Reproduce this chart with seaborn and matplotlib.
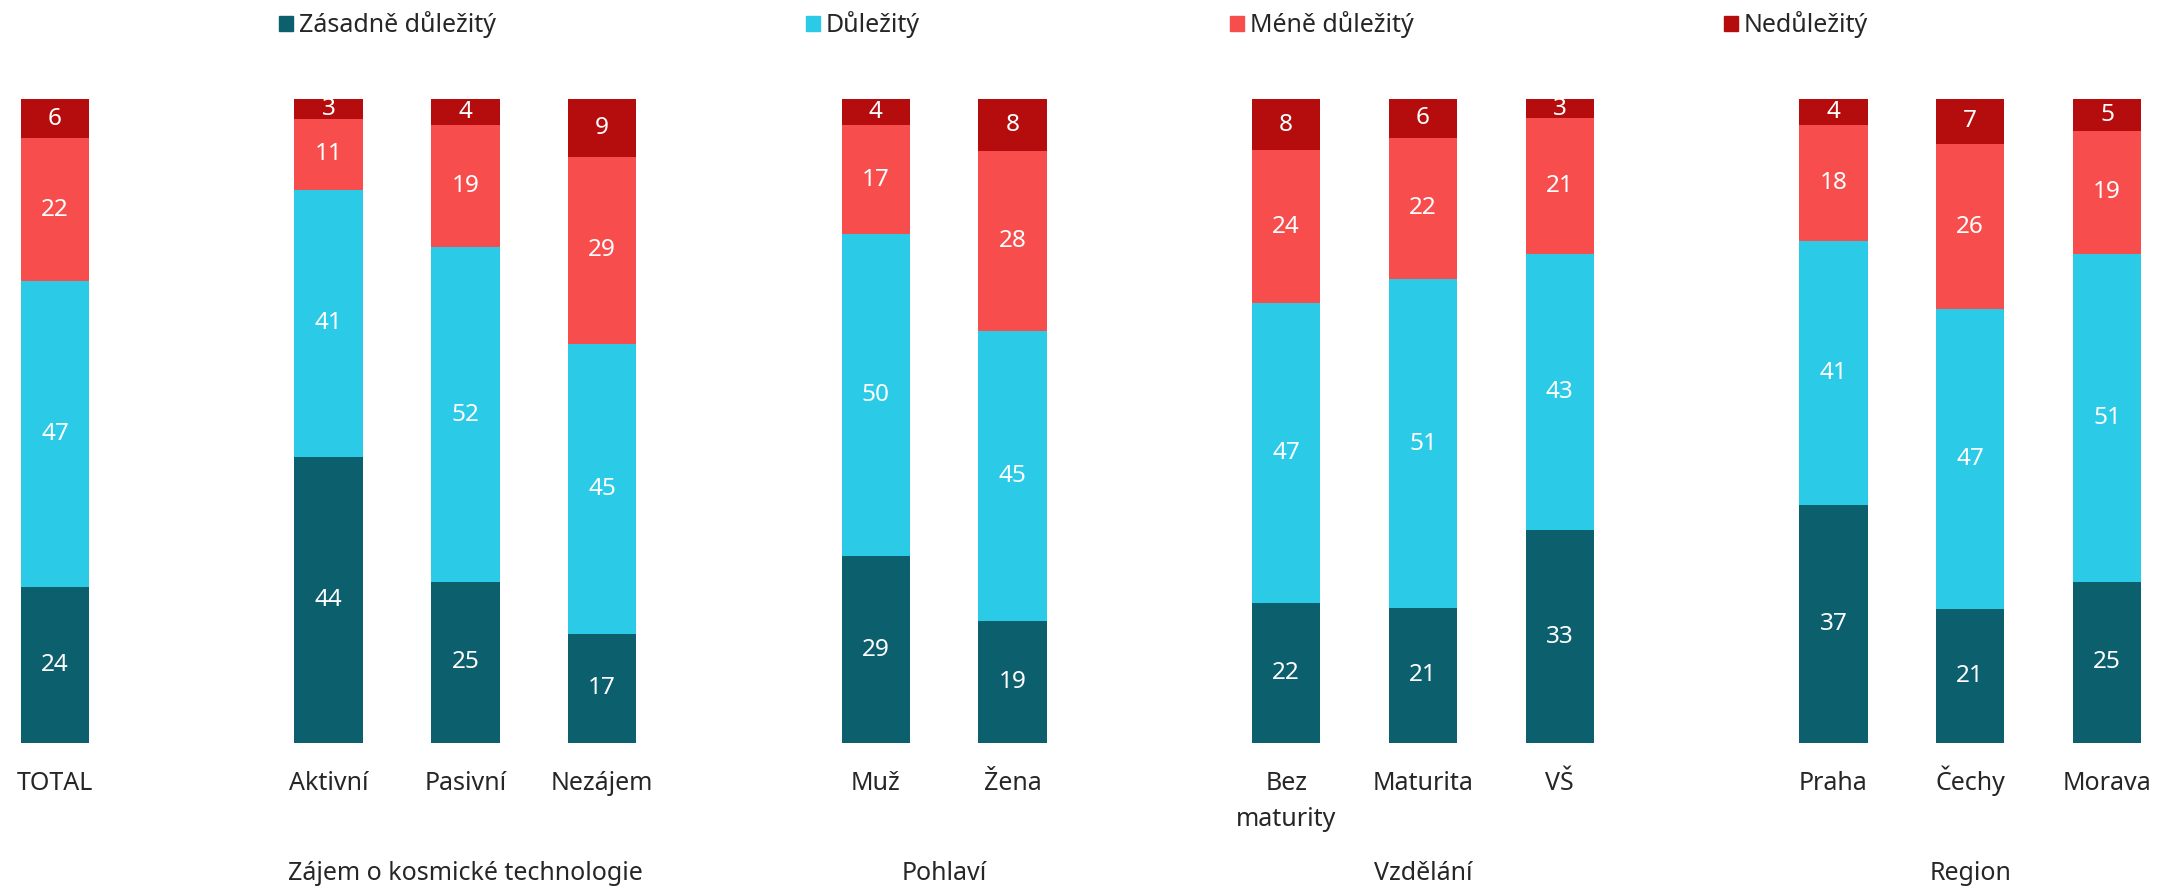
import numpy as np
import pandas as pd
import seaborn as sns
import matplotlib.pyplot as plt
import matplotlib.transforms as mtransforms
from matplotlib.patches import Patch

# Skupiny a kategorie
groups = ['', 'Zájem o kosmické technologie', 'Pohlaví', 'Vzdělání', 'Region']
group_items = [
    ['TOTAL'],
    ['Aktivní', 'Pasivní', 'Nezájem'],
    ['Muž', 'Žena'],
    ['Bez\nmaturity', 'Maturita', 'VŠ'],
    ['Praha', 'Čechy', 'Morava'],
]

series = ['Zásadně důležitý', 'Důležitý', 'Méně důležitý', 'Nedůležitý']
zasadne = [24, 44, 25, 17, 29, 19, 22, 21, 33, 37, 21, 25]
dulezity = [47, 41, 52, 45, 50, 45, 47, 51, 43, 41, 47, 51]
mene = [22, 11, 19, 29, 17, 28, 24, 22, 21, 18, 26, 19]
nedulezity = [6, 3, 4, 9, 4, 8, 8, 6, 3, 4, 7, 5]

colors = ['#0C5F6D', '#2BCBE8', '#F74E4D', '#B50D0D']

# pozice sloupců s mezerou mezi skupinami
positions, labels, group_centers = [], [], []
pos = 0
for items in group_items:
    start = pos
    for it in items:
        positions.append(pos)
        labels.append(it)
        pos += 1
    group_centers.append((start + pos - 1) / 2)
    pos += 1

vals = np.array([zasadne, dulezity, mene, nedulezity], dtype=float)
pct = vals / vals.sum(axis=0) * 100
cum = np.cumsum(pct, axis=0)

sns.set_theme(style='white')
plt.rcParams['font.family'] = ['Noto Sans', 'DejaVu Sans']

fig = plt.figure(figsize=(21.58, 8.89), dpi=100)
ax = fig.add_axes([0, 1 - 743 / 889, 1, (743 - 99) / 889])

# stacked: kreslit od nejvyšší kumulativní hodnoty dolů
for i in range(3, -1, -1):
    df = pd.DataFrame({'pos': positions, 'cum': cum[i]})
    sns.barplot(data=df, x='pos', y='cum', native_scale=True, width=0.5,
                color=colors[i], saturation=1, errorbar=None, ax=ax,
                edgecolor=colors[i], linewidth=0)

# popisky hodnot
for i in range(4):
    bottom = cum[i] - pct[i]
    for j, p in enumerate(positions):
        ax.text(p, bottom[j] + pct[i][j] / 2, f'{int(vals[i][j])}',
                ha='center', va='center', color='white', fontsize=17.5)

ax.set_xlim(-0.402, 15.373)
ax.set_ylim(0, 100)
ax.set_yticks([])
ax.set_xticks(positions)
ax.set_xticklabels([])
ax.tick_params(axis='x', length=0)
ax.set_xlabel('')
ax.set_ylabel('')
for s in ax.spines.values():
    s.set_visible(False)

# popisky kategorií (zarovnané na účaří)
trans = mtransforms.blended_transform_factory(ax.transData, fig.transFigure)
base_y = 1 - 790 / 889
line_h = 36 / 889
for p, lab in zip(positions, labels):
    for k, line in enumerate(lab.split('\n')):
        ax.text(p, base_y - k * line_h, line, transform=trans, ha='center',
                va='baseline', fontsize=18, color='#262626')

for g, c in zip(groups, group_centers):
    if g:
        ax.text(c, 0.017, g, transform=trans, ha='center', va='center',
                fontsize=18, color='#262626')

handles = [Patch(facecolor=c, edgecolor=c, label=s) for c, s in zip(colors, series)]
fig.legend(handles=handles, loc='center left', bbox_to_anchor=(279 / 2158, 0.972),
           ncol=4, frameon=False, fontsize=18, handlelength=0.55, handleheight=0.55,
           handletextpad=0.25, columnspacing=12.4, borderaxespad=0, borderpad=0,
           labelcolor='#262626')

fig.savefig('out.png', dpi=100, facecolor='white')
